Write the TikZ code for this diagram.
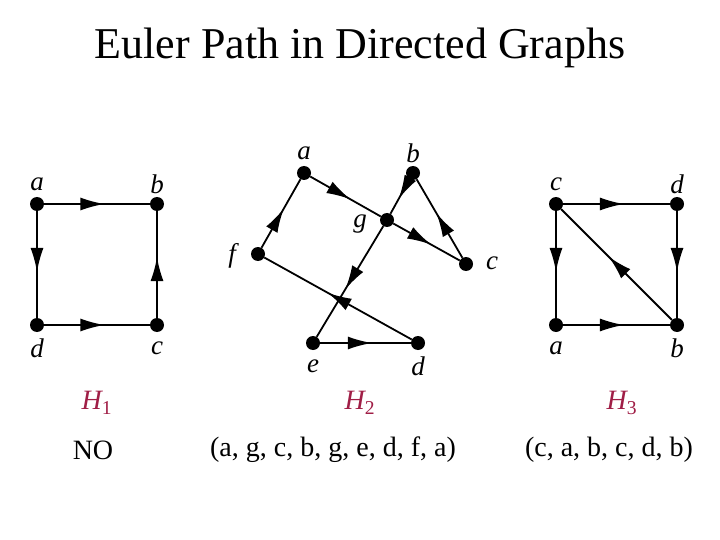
\documentclass[tikz,border=0pt]{standalone}
\usepackage{fontspec}
\setmainfont{Liberation Serif}
\usetikzlibrary{decorations.markings,arrows.meta}
\definecolor{hred}{RGB}{160,30,70}
\tikzset{
  v/.style={circle,fill=black,inner sep=0pt,minimum size=14pt},
  lbl/.style={font=\fontsize{27}{30}\selectfont\itshape},
  e/.style={line width=1.8pt,postaction={decorate},decoration={markings,mark=at position 0.57 with {\arrow{Latex[length=24pt,width=13pt]}}}},
  hl/.style={text=hred,font=\fontsize{28}{32}\selectfont\itshape},
  txt/.style={font=\fontsize{28}{32}\selectfont}
}
\begin{document}
\begin{tikzpicture}[x=1pt,y=-1pt]
\useasboundingbox (0,0) rectangle (720,540);
\node[font=\fontsize{44}{48}\selectfont] (title) at (360,48) {Euler Path in Directed Graphs};
% H1
\node[v] (1a) at (37,204) {}; \node[v] (1b) at (157,204) {};
\node[v] (1d) at (37,325) {}; \node[v] (1c) at (157,325) {};
\node[lbl] (1al) at (37,184) {a}; \node[lbl] (1bl) at (157,184) {b};
\node[lbl] (1dl) at (37,348) {d}; \node[lbl] (1cl) at (157,348) {c};
\draw[e] (1a)--(1b); \draw[e] (1a)--(1d); \draw[e] (1d)--(1c); \draw[e] (1c)--(1b);
% H2
\node[v] (2a) at (304,173) {}; \node[v] (2b) at (413,173) {};
\node[v] (2g) at (387,220) {}; \node[v] (2c) at (466,264) {};
\node[v] (2f) at (258,254) {}; \node[v] (2e) at (313,343) {};
\node[v] (2d) at (418,343) {};
\node[lbl] (2al) at (304,153) {a}; \node[lbl] (2bl) at (413,153) {b};
\node[lbl] (2gl) at (360,224) {g}; \node[lbl] (2cl) at (492,263) {c};
\node[lbl] (2fl) at (232,256) {f}; \node[lbl] (2el) at (313,366) {e};
\node[lbl] (2dl) at (418,366) {d};
\draw[e] (2a)--(2g); \draw[e] (2g)--(2c); \draw[e] (2c)--(2b); \draw[e] (2b)--(2g);
\draw[e] (2g)--(2e); \draw[e] (2e)--(2d); \draw[e] (2d)--(2f); \draw[e] (2f)--(2a);
% H3
\node[v] (3c) at (556,204) {}; \node[v] (3d) at (677,204) {};
\node[v] (3a) at (556,325) {}; \node[v] (3b) at (677,325) {};
\node[lbl] (3cl) at (556,184) {c}; \node[lbl] (3dl) at (677,184) {d};
\node[lbl] (3al) at (556,348) {a}; \node[lbl] (3bl) at (677,348) {b};
\draw[e] (3c)--(3a); \draw[e] (3a)--(3b); \draw[e] (3b)--(3c); \draw[e] (3c)--(3d); \draw[e] (3d)--(3b);
% captions
\node[hl] (h1) at (97,403) {H\textsubscript{\upshape 1}};
\node[hl] (h2) at (360,403) {H\textsubscript{\upshape 2}};
\node[hl] (h3) at (622,403) {H\textsubscript{\upshape 3}};
\node[txt] (t1) at (93,450) {NO};
\node[txt] (t2) at (333,450) {(a, g, c, b, g, e, d, f, a)};
\node[txt] (t3) at (609,450) {(c, a, b, c, d, b)};
\end{tikzpicture}
\end{document}
